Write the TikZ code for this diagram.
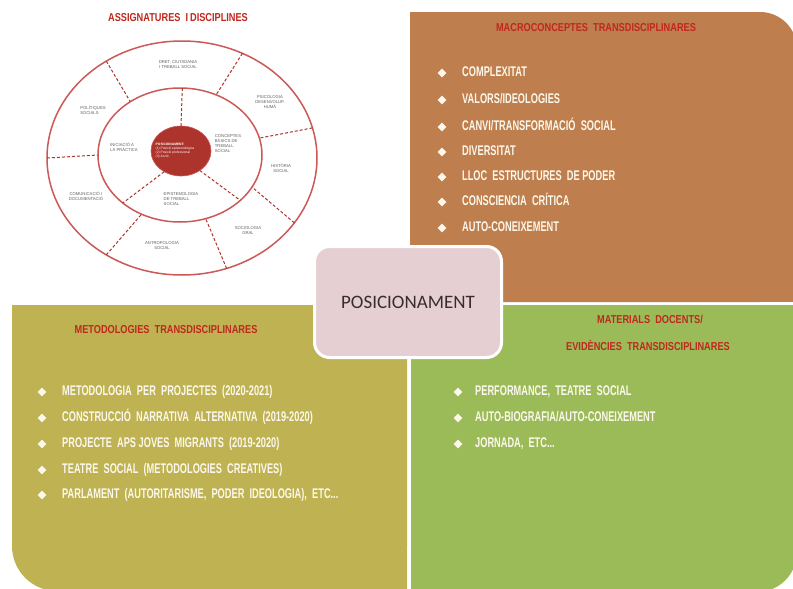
\documentclass[tikz,border=0pt]{standalone}
\usepackage{fontspec}
\setmainfont{Liberation Sans}
\newfontfamily\condf{Liberation Sans}[FakeStretch=0.66]
\newfontfamily\titlef{Liberation Sans}[FakeStretch=0.8]
\newfontfamily\calib{Carlito}
\usetikzlibrary{shapes.geometric}
\definecolor{brownq}{RGB}{190,126,78}
\definecolor{oliveq}{RGB}{190,178,82}
\definecolor{greenq}{RGB}{155,187,89}
\definecolor{pinkq}{RGB}{230,207,211}
\definecolor{titlered}{RGB}{192,40,30}
\definecolor{creamq}{RGB}{252,248,236}
\definecolor{ringred}{RGB}{204,88,88}
\definecolor{darkred}{RGB}{172,52,44}
\definecolor{labgray}{RGB}{95,95,95}
\tikzset{
  ttl/.style={font=\titlef\bfseries\fontsize{11.5}{13}\selectfont, text=titlered, inner sep=0, text height=8.5, text depth=2.5},
  bul/.style={diamond, fill=creamq, inner sep=0, minimum width=9, minimum height=9},
  btxt/.style={anchor=west, inner sep=0, text=creamq, font=\condf\bfseries\fontsize{14}{16}\selectfont, text height=10.5, text depth=3},
  ring/.style={ellipse, draw=ringred, line width=1.5, outer sep=0, inner sep=0},
  divider/.style={draw=darkred, line width=1, dash pattern=on 3pt off 2pt},
  clab/.style={font=\fontsize{4.2}{5}\selectfont, text=labgray, align=center, inner sep=0},
}
\begin{document}
\begin{tikzpicture}[x=1pt,y=-1pt]
\useasboundingbox (0,0) rectangle (793,589);
\fill[white] (0,0) rectangle (793,589);
% quadrants
\fill[brownq, rounded corners=37] (410,12) rectangle (797,302);
\fill[brownq] (410,12) rectangle (700,302);
\fill[brownq] (410,150) rectangle (797,302);
\fill[oliveq, rounded corners=45] (12,305) rectangle (407,591);
\fill[oliveq] (100,305) rectangle (407,591);
\fill[oliveq] (12,305) rectangle (407,480);
\fill[greenq, rounded corners=40] (411,305) rectangle (797,592);
\fill[greenq] (411,305) rectangle (700,592);
\fill[greenq] (411,305) rectangle (797,480);

% circle diagram
\node[ttl] (tA) at (178,18) {ASSIGNATURES\ \ I\,DISCIPLINES};
\node[ring, minimum width=270, minimum height=234] (outer) at (182,158) {};
\node[ring, minimum width=164, minimum height=134] (inner) at (180,155) {};
\node[ellipse, fill=darkred, draw=ringred, line width=0.6, minimum width=60, minimum height=50, outer sep=0, inner sep=0] (core) at (181,151) {};
\draw[divider] (outer.128) -- (inner.133);
\draw[divider] (outer.60.6) -- (inner.59.6);
\draw[divider] (outer.13.6) -- (inner.12.2);
\draw[divider] (outer.180.8) -- (inner.180);
\draw[divider] (outer.232) -- (inner.237);
\draw[divider] (outer.292) -- (inner.292.6);
\draw[divider] (outer.330.6) -- (inner.336.9);
\draw[divider] (core.90) -- (inner.88);
\draw[divider] (core.314) -- (inner.323);
\draw[divider] (core.231) -- (inner.220.5);
\node[clab] (l1) at (178,65) {DRET, CIUTADANIA\\I TREBALL SOCIAL};
\node[clab, align=left] (l2) at (93,110) {POLÍTIQUES\\SOCIALS};
\node[clab] (l3) at (270,102) {PSICOLOGIA\\DESENVOLUP.\\HUMÀ};
\node[clab, align=left] (l4) at (124,147) {INICIACIÓ A\\LA PRÀCTICA};
\node[clab, align=left] (l5) at (228,144) {CONCEPTES\\BÀSICS DE\\TREBALL\\SOCIAL};
\node[clab] (l6) at (281,168) {HISTÒRIA\\SOCIAL};
\node[clab, align=left] (l7) at (181,199) {EPISTEMOLOGIA\\DE TREBALL\\SOCIAL};
\node[clab] (l8) at (86,196) {COMUNICACIÓ I\\DOCUMENTACIÓ};
\node[clab] (l9) at (248,231) {SOCIOLOGIA\\GRAL};
\node[clab] (l10) at (162,246) {ANTROPOLOGIA\\SOCIAL};
\node[font=\fontsize{3.3}{4.1}\selectfont, text=white, align=left, inner sep=0] (coretxt) at (175,151) {\textbf{POSICIONAMENT:}\\(1) Posició epistemològica\\(2) Posició professional\\(3) Acció};

% macroconceptes
\node[ttl] (tB) at (596,28) {MACROCONCEPTES\ \ TRANSDISCIPLINARES};
\foreach \yy/\tx [count=\i] in {73/{COMPLEXITAT}, 100/{VALORS/IDEOLOGIES}, 127/{CANVI/TRANSFORMACIÓ\ \ SOCIAL}, 152/{DIVERSITAT}, 177/{LLOC\ \ ESTRUCTURES\ \ DE\ PODER}, 202/{CONSCIENCIA\ \ CRÍTICA}, 228/{AUTO-CONEIXEMENT}}{
  \node[bul] (mb\i) at (442,\yy) {};
  \node[btxt] (mt\i) at (462,\yy) {\tx};
}

% metodologies
\node[ttl] (tC) at (166,330) {METODOLOGIES\ \ TRANSDISCIPLINARES};
\foreach \yy/\tx [count=\i] in {392/{METODOLOGIA\ \ PER\ \ PROJECTES\ \ (2020-2021)}, 418/{CONSTRUCCIÓ\ \ NARRATIVA\ \ ALTERNATIVA\ \ (2019-2020)}, 444/{PROJECTE\ \ APS\ JOVES\ \ MIGRANTS\ \ (2019-2020)}, 470/{TEATRE\ \ SOCIAL\ \ (METODOLOGIES\ \ CREATIVES)}, 495/{PARLAMENT\ \ (AUTORITARISME,\ \ PODER\ \ IDEOLOGIA),\ \ ETC...}}{
  \node[bul] (ob\i) at (42,\yy) {};
  \node[btxt] (ot\i) at (62,\yy) {\tx};
}

% materials
\node[ttl] (tD) at (650,320) {MATERIALS\ \ DOCENTS/};
\node[ttl] (tE) at (648,347) {EVIDÈNCIES\ \ TRANSDISCIPLINARES};
\foreach \yy/\tx [count=\i] in {392/{PERFORMANCE,\ \ TEATRE\ \ SOCIAL}, 418/{AUTO-BIOGRAFIA/AUTO-CONEIXEMENT}, 444/{JORNADA,\ \ ETC...}}{
  \node[bul] (gb\i) at (458,\yy) {};
  \node[btxt] (gt\i) at (475,\yy) {\tx};
}

% center
\node[draw=white, line width=3, fill=pinkq, rounded corners=15, minimum width=187, minimum height=111, font=\calib\fontsize{19}{22}\selectfont, text={rgb,255:red,55;green,45;blue,45}] (pos) at (408,302) {POSICIONAMENT};
\end{tikzpicture}
\end{document}
